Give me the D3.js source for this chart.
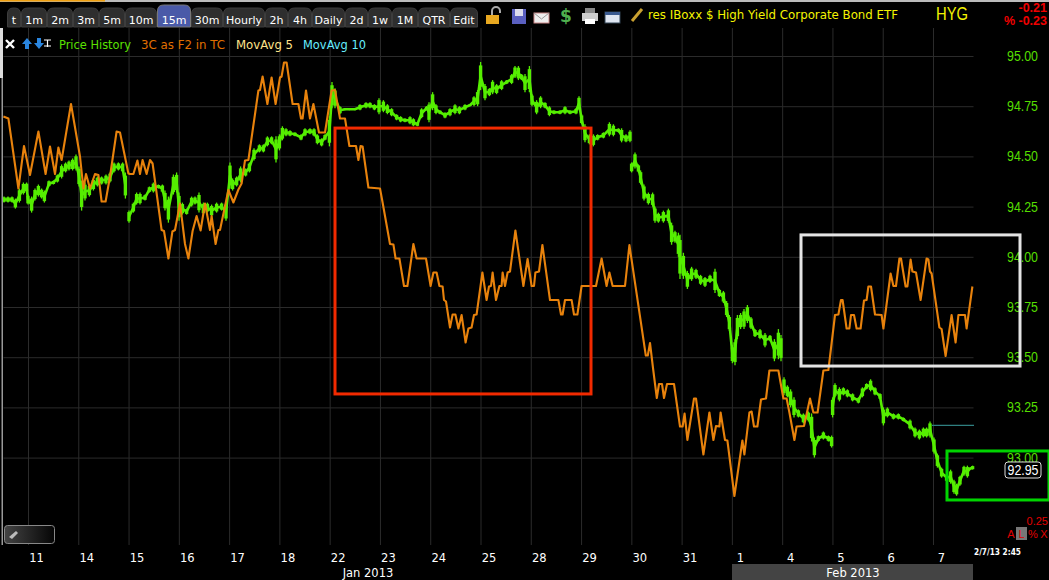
<!DOCTYPE html>
<html><head><meta charset="utf-8">
<script src="https://cdn.jsdelivr.net/npm/d3@7"></script>
<style>html,body{margin:0;padding:0;background:#000;overflow:hidden}svg{display:block}text{font-family:"DejaVu Sans",sans-serif}</style>
</head><body><svg id="c" width="1049" height="580"></svg>
<script>
const days=["11","14","15","16","17","18","22","23","24","25","28","29","30","31","1","4","5","6","7"];
const priceTicks=[95,94.75,94.5,94.25,94,93.75,93.5,93.25,93];
const tabs=["t","1m","2m","3m","5m","10m","15m","30m","Hourly","2h","4h","Daily","2d","1w","1M","QTR","Edit"];
const tabEdges=[7,21,47,73,99,125,157,191,223,265,288,312,345,368,392,418,450,478];
const legendNames=["Price History","3C as F2 in TC","MovAvg 5","MovAvg 10"];
const legendColors=["#5be000","#e07000","#ffe38a","#66eeff"];
// 15-minute bar position, high and low; null marks a data gap
const priceBar=[0,2,4,5.7,7.7,9.7,11.3,12,13.8,15.5,17.2,18.8,20.2,22.5,24.7,26.7,28.8,30.8,32.5,34.3,36,37.5,38.8,40.5,42.7,44.7,46.7,48.8,51,53,55,57.2,59.3,60.7,null,62.5,64.7,66.3,68,70.5,72.7,74.7,77.2,79.2,80.5,82.2,84.7,86.3,87.5,89.2,91.3,93.8,95.5,97.5,99.7,101.7,103.8,106.3,108.8,111,113,114.3,116.3,118.3,120.8,122.7,125,127.7,129.7,131.7,133.8,136,137.7,139.2,141,143,145.5,148.5,150.5,153,155,156.7,158.8,160.5,162.7,164,165.5,168,170.5,172.7,175.5,178,181,183,185.2,187.5,189.7,191.7,193.8,196.3,198.3,200.5,203,204.7,206.7,208.8,211.3,212.5,214.3,216,218,220.5,223,225.5,227.7,230.5,233,235,236.8,238.3,240.5,242.7,244.3,246.3,248.8,251.3,253.8,255.5,257.2,258.8,260.5,262.7,264,266.3,268.3,270.5,272.7,275,278,280.5,283,286,287.5,288.8,290.5,292.7,294.7,296.8,299.7,302.7,304.7,307.2,308.8,311,313,null,313.8,315.5,317.2,318.3,320,322.2,324.3,325.5,327.2,329.7,332.2,333.8,335.5,337.2,338,339.7,341.7,343.8,346,348.3,350.5,353,355.5,357.7,359.7,361.3,362.7,364.2,365.5,366.7,368.3,370,371.7,373.5,375.5,378,380.5,383,385.2,387.2,388.5,null,390,391.7,393.3,395,397.2,399.7,402.2,403.8,405.2,407.2,409.7,412.2,413.8,null,414.3,415.5,417.7,419.7,421.7,424.3,427.2,429.2,431.3,433.3,435.5,438,439.7,441.7,444.7,447.2,449.7,453,455.5,457.7,459.7,461.3,463,465,466.7,468.8,471.3,473.3,475,476.3,478,480,481.7,483,484.3];
const priceHigh=[94.30,94.30,94.30,94.29,94.34,94.37,94.37,94.31,94.30,94.34,94.36,94.34,94.33,94.38,94.38,94.41,94.46,94.47,94.48,94.49,94.51,94.45,94.38,94.37,94.36,94.39,94.40,94.40,94.41,94.42,94.47,94.47,94.47,94.42,null,94.23,94.27,94.32,94.32,94.31,94.35,94.37,94.36,94.36,94.33,94.30,94.41,94.42,94.32,94.27,94.24,94.30,94.30,94.32,94.27,94.27,94.26,94.27,94.27,94.27,94.47,94.39,94.40,94.45,94.44,94.47,94.54,94.56,94.56,94.60,94.60,94.60,94.61,94.65,94.64,94.63,94.62,94.61,94.64,94.64,94.64,94.61,94.59,94.61,94.70,94.87,94.84,94.75,94.74,94.74,94.74,94.76,94.77,94.77,94.76,94.79,94.78,94.76,94.74,94.71,94.70,94.69,94.70,94.69,94.67,94.74,94.75,94.77,94.82,94.76,94.73,94.72,94.74,94.76,94.75,94.76,94.76,94.80,94.83,94.97,94.86,94.84,94.88,94.86,94.88,94.88,94.91,94.95,94.95,94.91,94.91,94.95,94.81,94.78,94.80,94.77,94.75,94.73,94.73,94.75,94.73,94.74,94.80,94.71,94.66,94.61,94.61,94.61,94.62,94.67,94.66,94.64,94.64,94.61,94.63,null,94.47,94.52,94.46,94.43,94.36,94.32,94.32,94.25,94.22,94.23,94.24,94.17,94.13,94.12,94.11,94.02,93.93,93.95,93.94,93.91,93.90,93.91,93.94,93.84,93.83,93.78,93.71,93.56,93.59,93.71,93.72,93.74,93.76,93.70,93.64,93.64,93.62,93.61,93.59,93.64,93.61,null,93.40,93.36,93.34,93.30,93.24,93.22,93.23,93.22,93.10,93.11,93.13,93.11,93.11,null,93.30,93.37,93.35,93.35,93.34,93.32,93.30,93.35,93.37,93.39,93.35,93.32,93.25,93.25,93.22,93.22,93.20,93.19,93.15,93.14,93.15,93.15,93.18,93.10,93.02,92.95,92.92,92.94,92.89,92.87,92.91,92.96,92.96,92.95,92.96];
const priceLow=[94.27,94.27,94.27,94.24,94.27,94.31,94.32,94.26,94.22,94.28,94.30,94.29,94.27,94.35,94.36,94.37,94.39,94.42,94.43,94.43,94.43,94.35,94.23,94.28,94.30,94.33,94.35,94.36,94.36,94.37,94.42,94.43,94.42,94.29,null,94.17,94.22,94.26,94.26,94.28,94.32,94.32,94.34,94.32,94.23,94.17,94.31,94.32,94.18,94.21,94.21,94.25,94.26,94.22,94.21,94.22,94.20,94.22,94.23,94.18,94.34,94.33,94.35,94.37,94.40,94.42,94.48,94.52,94.52,94.55,94.56,94.47,94.53,94.58,94.60,94.60,94.60,94.58,94.60,94.61,94.60,94.56,94.55,94.58,94.55,94.74,94.74,94.71,94.73,94.73,94.73,94.73,94.74,94.74,94.73,94.71,94.72,94.71,94.70,94.68,94.67,94.67,94.66,94.65,94.65,94.69,94.73,94.67,94.73,94.71,94.71,94.69,94.70,94.71,94.71,94.73,94.75,94.75,94.75,94.83,94.78,94.80,94.81,94.81,94.83,94.86,94.86,94.89,94.88,94.88,94.82,94.82,94.75,94.71,94.74,94.74,94.70,94.71,94.71,94.71,94.71,94.71,94.73,94.66,94.57,94.56,94.55,94.58,94.59,94.60,94.60,94.62,94.57,94.57,94.57,null,94.42,94.44,94.42,94.36,94.28,94.26,94.25,94.17,94.17,94.17,94.17,94.06,94.07,94.00,93.89,93.89,93.84,93.88,93.89,93.86,93.85,93.87,93.82,93.80,93.77,93.70,93.63,93.47,93.46,93.59,93.64,93.64,93.67,93.64,93.60,93.59,93.55,93.58,93.48,93.49,93.48,null,93.31,93.30,93.25,93.20,93.20,93.17,93.18,93.08,93.00,93.08,93.09,93.08,93.05,null,93.20,93.30,93.28,93.31,93.30,93.28,93.27,93.30,93.34,93.33,93.31,93.29,93.16,93.20,93.19,93.19,93.18,93.14,93.10,93.09,93.10,93.10,93.10,93.02,92.95,92.90,92.88,92.87,92.82,92.81,92.86,92.91,92.90,92.94,92.94];
const threeCBar=[-0.3,2.2,7.2,10,13,17.2,20.8,23,25.5,27.2,28.8,33.5,38,39.7,41,43,45.5,47.2,48.8,50.8,53,56.3,58,62.2,63,64.7,66.7,68,69.3,71.3,73,74.3,78.8,80,82.2,84.2,85.5,88,90.5,92.2,94.3,96.3,98.3,100.5,103,103.8,105.8,107.2,108,112.2,114.7,117.2,118.8,120.5,122.2,127.2,128,129.3,131.7,133.8,135.8,138,138.8,140,141.3,144.3,147.2,148.5,149.3,151,153,154.7,157.5,160.5,163.8,165.5,168,170.5,172.7,176,177.2,178.3,179.3,182.2,188,189.3,193,194.7,195.8,197.7,200,201.7,204.7,206.3,211,213.3,214.7,216.3,217.7,219.3,220,221,223,224.3,225.7,227.2,228.8,230.8,232.2,233.8,235,236.3,239.2,241.3,242.5,243.5,244.3,246,247.7,248.8,249.3,250.5,251.8,253,255.7,259.7,261.8,263.8,265,265.7,267.5,269.2,273,277.2,278.5,279.3,280.5,283.8,285,286.7,288.8,296,298.8,301.3,302.7,304.3,310.5,312.7,320.9,321.9,323,324.5,326.4,327.5,329,330,331.5,335,338,339.3,340.3,341.7,345,346,349.7,352.7,354.7,356,357.7,358.3,360.5,361.7,365.2,369.2,370.2,372.7,373.8,375,376.7,378.5,381,382.7,387.2,389.7,391.3,392.7,395.2,396.3,400,403,404.7,406.8,409.7,412.2,415.5,417.2,418.5,419.3,421.3,422.7,423.5,425,426.3,428.3,430,431.3,432.2,433.5,435.5,438.8,439.7,443.3,444.7,446,447.7,448.5,450.8,451.7,453.3,454.2,456,458.3,461.3,462.2,463,463.8,467.7,468.8,470.8,473.8,475.8,477.2,480.5,481.3,484.2];
const threeCValue=[767,763,623,708,650,737,652,707,652,705,680,792,687,623,652,623,652,650,597,597,647,737,735,653,652,652,679,652,680,652,680,673,540,538,483,537,540,593,512,483,538,568,539,593,540,568,512,540,540,620,595,621,633,679,680,819,820,847,792,845,792,845,847,875,875,792,792,763,763,819,763,792,735,735,819,820,763,763,708,708,680,708,707,625,623,595,512,511,483,483,428,428,512,483,483,428,455,455,428,427,400,397,345,371,371,343,370,315,343,345,370,371,455,400,427,428,455,400,428,428,455,428,455,457,539,428,482,428,428,455,457,510,400,400,371,371,400,400,371,371,428,428,483,428,455,428,428,510,289,289,314,264,204,232,232,204,232,232,147,147,173,120,203,203,91,175,120,148,147,175,120,119,8,119,91,175,177,147,147,201,203,259,259,203,203,175,120,147,148,203,175,175,259,260,370,371,400,400,343,343,370,370,343,343,399,400,427,427,371,370,343,453,428,428,483,483,427,427,481,457,455,400,483,481,457,453,345,342,288,370,315,370,370,343,427];
const ma10Bar=[464,485];
const ma10Value=[93.16,93.16];
// annotation boxes: bar from, bar to, price top, price bottom
const boxBar0=[165.5,398.5,471.5];
const boxBar1=[293.5,508,522.5];
const boxTop=[94.641,94.109,93.033];
const boxBottom=[93.317,93.456,92.789];
const boxColor=["#f22a00","#e4e4e4","#00d400"];
const lastPrice=92.95;

const svg=d3.select("#c");
const xBar=d3.scaleLinear().domain([0,485]).range([4,974]);
const y=d3.scaleLinear().domain([95,93]).range([56,457.6]);
const y3C=d3.scaleLinear().domain([0,1000]).range([500,0]);
const xDay=d3.scalePoint().domain(days).range([28,933]);

// frame top strip
svg.append("rect").attr("x",0).attr("y",0).attr("width",1049).attr("height",2).attr("fill","#bbb");
svg.append("rect").attr("x",0).attr("y",0).attr("width",105).attr("height",1.5).attr("fill","#f0a010");

// grid + axes
const gy=svg.append("g").attr("transform","translate(973.5,0)").call(d3.axisRight(y).tickValues(priceTicks).tickFormat(d3.format(".2f")).tickSizeInner(-970).tickSizeOuter(0).tickPadding(33.5));
gy.select(".domain").remove();
gy.selectAll("line").attr("stroke","#2b2b2b");
gy.selectAll("text").attr("fill","#55dd00").attr("textLength",31).attr("lengthAdjust","spacingAndGlyphs").style("font-family","'Liberation Sans',sans-serif").style("font-size","14px");
const gx=svg.append("g").attr("transform","translate(0,545)").call(d3.axisBottom(xDay).tickSizeInner(-517).tickSizeOuter(0).tickPadding(8));
gx.select(".domain").remove();
gx.selectAll("line").attr("stroke","#2b2b2b").attr("stroke-width",1);
gx.selectAll("text").attr("fill","#fff").attr("dx",8).attr("y",9).attr("dy","0.71em").style("font-size","11.5px");

// price bars
const idx=d3.range(priceBar.length);
const valid=idx.filter(i=>priceBar[i]!==null);
const mid=i=>(priceHigh[i]+priceLow[i])/2;
const priceG=svg.append("g");
priceG.append("path").attr("fill","none").attr("stroke","#55ee00").attr("stroke-width",2.6)
 .attr("d",d3.line().defined(i=>priceBar[i]!==null).x(i=>xBar(priceBar[i])).y(i=>y(mid(i)))(idx));
priceG.selectAll("line.w").data(valid).join("line").attr("class","w")
 .attr("x1",i=>xBar(priceBar[i])).attr("x2",i=>xBar(priceBar[i]))
 .attr("y1",i=>y(priceHigh[i])).attr("y2",i=>y(priceLow[i]))
 .attr("stroke","#55ee00").attr("stroke-width",1.3);
priceG.selectAll("line.b").data(valid).join("line").attr("class","b")
 .attr("x1",i=>xBar(priceBar[i])).attr("x2",i=>xBar(priceBar[i]))
 .attr("y1",i=>y(priceHigh[i]-(priceHigh[i]-priceLow[i])*0.12)).attr("y2",i=>y(priceLow[i]+(priceHigh[i]-priceLow[i])*0.12))
 .attr("stroke","#55ee00").attr("stroke-width",3.4);

// MA10 stub
svg.append("path").attr("fill","none").attr("stroke","#2f7f80").attr("stroke-width",1.2)
 .attr("d",d3.line().x((d,i)=>xBar(ma10Bar[i])).y(d=>y(d))(ma10Value));

// 3C line
svg.append("path").attr("fill","none").attr("stroke","#e8820c").attr("stroke-width",2.1).attr("stroke-linejoin","round")
 .attr("d",d3.line().x((d,i)=>xBar(threeCBar[i])).y(d=>y3C(d))(threeCValue));

// annotation boxes
boxColor.forEach((c,i)=>svg.append("rect")
 .attr("x",xBar(boxBar0[i])).attr("y",y(boxTop[i]))
 .attr("width",xBar(boxBar1[i])-xBar(boxBar0[i])).attr("height",y(boxBottom[i])-y(boxTop[i]))
 .attr("fill","none").attr("stroke",c).attr("stroke-width",3));

// left rail
svg.append("rect").attr("x",0).attr("y",28).attr("width",3).attr("height",50).attr("fill","#ddd");
svg.append("rect").attr("x",1.5).attr("y",78).attr("width",1.5).attr("height",467).attr("fill","#999");

// tabs
const tabG=svg.append("g");
tabs.forEach((t,i)=>{
 const x0=tabEdges[i]+0.5,x1=tabEdges[i+1]-0.5,on=t==="15m",top=on?5:8;
 tabG.append("path").attr("d",`M${x0},27V${top+6}Q${x0},${top} ${x0+6},${top}H${x1-6}Q${x1},${top} ${x1},${top+6}V27Z`)
  .attr("fill",on?"#4a5aa8":"#2e2e2e").attr("stroke",on?"#777":"#3d3d3d");
 tabG.append("text").attr("x",(x0+x1)/2).attr("y",24).attr("text-anchor","middle").attr("fill","#fff").style("font-size","11px").text(t);
});

// tool icons
const ic=svg.append("g");
ic.append("rect").attr("x",486).attr("y",15).attr("width",13).attr("height",9).attr("fill","#e8a820");
ic.append("path").attr("d","M492,15v-4a4,4 0 0 1 8,0v2").attr("fill","none").attr("stroke","#aaa").attr("stroke-width",2);
ic.append("rect").attr("x",512).attr("y",9).attr("width",14).attr("height",15).attr("fill","#5a5fc0");
ic.append("rect").attr("x",515).attr("y",9).attr("width",8).attr("height",7).attr("fill","#dde");
ic.append("rect").attr("x",534).attr("y",13).attr("width",15).attr("height",10).attr("fill","#eee").attr("stroke","#c88");
ic.append("path").attr("d","M534,13l7.5,6l7.5,-6").attr("fill","none").attr("stroke","#999");
ic.append("text").attr("x",566).attr("y",22).attr("text-anchor","middle").attr("fill","#4fb04f").style("font-size","17px").style("font-weight","bold").text("$");
ic.append("rect").attr("x",582).attr("y",13).attr("width",16).attr("height",8).attr("fill","#ccc");
ic.append("rect").attr("x",585).attr("y",8).attr("width",10).attr("height",5).attr("fill","#888");
ic.append("rect").attr("x",585).attr("y",19).attr("width",10).attr("height",5).attr("fill","#fff");
ic.append("rect").attr("x",605).attr("y",12).attr("width",15).attr("height",11).attr("fill","#dfe6f2").attr("stroke","#345");
ic.append("rect").attr("x",605).attr("y",12).attr("width",15).attr("height",3).attr("fill","#3a5a90");
ic.append("path").attr("d","M632,21L642,9").attr("stroke","#c9a030").attr("stroke-width",3);

// header text
svg.append("text").attr("x",648).attr("y",19).attr("fill","#f4f400").style("font-size","11.8px").text("res IBoxx $ High Yield Corporate Bond ETF");
svg.append("text").attr("x",936).attr("y",20).attr("fill","#f4f400").attr("textLength",32).attr("lengthAdjust","spacingAndGlyphs").style("font-size","18px").style("font-family","'Liberation Sans',sans-serif").text("HYG");
svg.append("text").attr("x",1047).attr("y",12).attr("text-anchor","end").attr("fill","#f00000").style("font-size","12.5px").style("font-weight","bold").style("font-family","'Liberation Sans',sans-serif").text("-0.21");
svg.append("text").attr("x",1047).attr("y",25).attr("text-anchor","end").attr("fill","#f00000").style("font-size","12.5px").style("font-weight","bold").style("font-family","'Liberation Sans',sans-serif").text("% -0.23");

// legend row
ic.append("path").attr("d","M6,40l8,8M14,40l-8,8").attr("stroke","#fff").attr("stroke-width",2.4);
ic.append("path").attr("d","M22,44l5,-6l5,6h-3v5h-4v-5z").attr("fill","#2a86e0");
ic.append("path").attr("d","M34,43l5,6l5,-6h-3v-5h-4v5z").attr("fill","#2a86e0");
ic.append("path").attr("d","M44,40h7M47.5,40v7M44,46h7").attr("stroke","#fff").attr("stroke-width",1.2);
const legendX=[59,141,236,303],legendW=[72,84,57,63];
legendNames.forEach((n,i)=>svg.append("text").attr("x",legendX[i]).attr("y",49).attr("fill",legendColors[i]).attr("textLength",legendW[i]).attr("lengthAdjust","spacingAndGlyphs").style("font-size","11.5px").text(n));

// last price tag
svg.append("rect").attr("x",1005).attr("y",462).attr("width",36).attr("height",16).attr("rx",3).attr("fill","#000").attr("stroke","#ddd");
svg.append("text").attr("x",1023).attr("y",470).attr("dy","0.36em").attr("text-anchor","middle").attr("fill","#fff").attr("textLength",31).attr("lengthAdjust","spacingAndGlyphs").style("font-size","14px").style("font-family","'Liberation Sans',sans-serif").text(d3.format(".2f")(lastPrice));

// bottom
const brush=svg.append("defs").append("linearGradient").attr("id","br");
brush.append("stop").attr("offset","0").attr("stop-color","#444");
brush.append("stop").attr("offset","1").attr("stop-color","#050505");
svg.append("rect").attr("x",4.5).attr("y",525.5).attr("width",50).attr("height",18).attr("rx",3).attr("fill","url(#br)").attr("stroke","#888");
svg.append("path").attr("d","M9,537l7,-6l2,2l-6,6z").attr("fill","#bbb");
svg.append("rect").attr("x",732).attr("y",564).attr("width",241).attr("height",16).attr("fill","#444");
svg.append("text").attr("x",368).attr("y",577).attr("text-anchor","middle").attr("fill","#fff").style("font-size","11.5px").text("Jan 2013");
svg.append("text").attr("x",853).attr("y",577).attr("text-anchor","middle").attr("fill","#fff").style("font-size","11.5px").text("Feb 2013");
svg.append("text").attr("x",974).attr("y",555).attr("fill","#fff").attr("textLength",47).attr("lengthAdjust","spacingAndGlyphs").style("font-size","9.5px").style("font-weight","bold").text("2/7/13 2:45");
svg.append("text").attr("x",1048).attr("y",525).attr("text-anchor","end").attr("fill","#e00000").style("font-size","11px").style("font-family","'Liberation Sans',sans-serif").text("0.25");
svg.append("rect").attr("x",1016).attr("y",527).attr("width",11).attr("height",13).attr("fill","#777");
const ctl=["A","L","%","X"],ctlX=[1011,1021.5,1033,1044];
ctl.forEach((t,i)=>svg.append("text").attr("x",ctlX[i]).attr("y",538).attr("text-anchor","middle").attr("fill","#e00000").style("font-size","11px").style("font-family","'Liberation Sans',sans-serif").text(t));
</script></body></html>
